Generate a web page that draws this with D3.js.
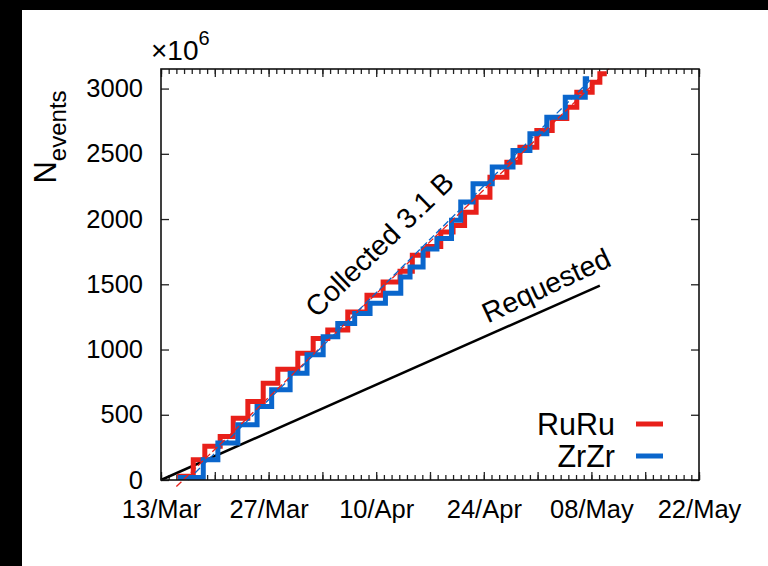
<!DOCTYPE html>
<html>
<head>
<meta charset="utf-8">
<script src="https://cdn.jsdelivr.net/npm/d3@7"></script>
<style>
  html, body { margin: 0; padding: 0; background: #000; }
  svg { display: block; }
  text { font-family: "Liberation Sans", Arial, Helvetica, sans-serif; fill: #000; }
</style>
</head>
<body>
<div id="chart"></div>
<script>
// run start, x tick labels, y ticks
const startDate = "2018-03-13"
const xTickLabels = ["13/Mar", "27/Mar", "10/Apr", "24/Apr", "08/May", "22/May"]
const yTicks = [0, 500, 1000, 1500, 2000, 2500, 3000]

// cumulative events (x10^6), step after each day offset
const ruDays = [2.1, 4.2, 5.7, 7.7, 9.4, 11.3, 13.3, 15.2, 17.8, 19.8, 21.7, 24.3, 26.8, 28.9, 31.1, 32.7, 34.7, 36.4, 38.0, 39.5, 41.0, 42.8, 45.0, 46.7, 48.9, 50.9, 52.8, 54.1, 56.1, 57.1, 58.0]
const ruVals = [28, 155, 258, 334, 474, 602, 742, 849, 972, 1084, 1150, 1288, 1416, 1518, 1600, 1722, 1790, 1900, 1951, 2053, 2168, 2321, 2436, 2551, 2679, 2770, 2857, 2972, 3048, 3113, 3113]
const zrDays = [2.2, 5.5, 7.4, 10.0, 12.5, 14.4, 16.8, 19.0, 21.1, 23.0, 25.2, 27.2, 29.2, 31.2, 32.4, 34.1, 35.9, 37.8, 39.0, 40.6, 43.1, 45.8, 48.0, 50.2, 52.6, 55.2, 55.7]
const zrVals = [20, 155, 283, 423, 564, 691, 819, 959, 1097, 1199, 1276, 1354, 1431, 1556, 1633, 1770, 1850, 1990, 2130, 2270, 2398, 2525, 2653, 2780, 2933, 3076, 3076]

// thin linear trend lines [day, value]
const ruTrend = [[2.0, -50], [58.3, 3150]]
const zrTrend = [[3.5, 0], [56.1, 3080]]
// requested luminosity line
const requested = [[0, 0], [57.1, 1490]]

const W = 768, H = 566
const margin = {left: 161, top: 69, right: 69, bottom: 86}
const colors = {RuRu: "#e8201a", ZrZr: "#0a66cc"}

const day0 = new Date(startDate + "T00:00:00Z")
const toDate = d => new Date(day0.getTime() + d * 864e5)
const parseLabel = d3.utcParse("%d/%b/%Y")

const svg = d3.select("#chart").append("svg")
	.attr("width", W)
	.attr("height", H)

// white page with the black scan edge top and left
svg.append("rect")
	.attr("x", 22).attr("y", 10)
	.attr("width", W - 22).attr("height", H - 10)
	.attr("fill", "#fff")

const x = d3.scaleUtc()
	.domain([day0, parseLabel(xTickLabels[xTickLabels.length - 1] + "/2018")])
	.range([margin.left, W - margin.right])
const y = d3.scaleLinear()
	.domain([0, 3150])
	.range([H - margin.bottom, margin.top])

const allDays = d3.utcDay.range(x.domain()[0], d3.utcDay.offset(x.domain()[1], 1))
const weekDays = allDays.filter((d, i) => i % 7 === 0)
const labelDates = xTickLabels.map(l => parseLabel(l + "/2018"))
const fmt = d3.utcFormat("%d/%b")

const y0 = H - margin.bottom, x1 = W - margin.right

// minor ticks bottom/top
svg.append("g").attr("transform", `translate(0,${y0})`)
	.call(d3.axisBottom(x).tickValues(allDays).tickSize(-5).tickFormat(""))
svg.append("g").attr("transform", `translate(0,${margin.top})`)
	.call(d3.axisTop(x).tickValues(allDays).tickSize(-5).tickFormat(""))
svg.append("g").attr("transform", `translate(0,${margin.top})`)
	.call(d3.axisTop(x).tickValues(weekDays).tickSize(-8).tickFormat(""))

// major bottom ticks with labels on every other week
const xAxis = svg.append("g").attr("transform", `translate(0,${y0})`)
	.call(d3.axisBottom(x).tickValues(weekDays).tickSize(-8).tickPadding(20)
		.tickFormat(d => labelDates.some(l => +l === +d) ? fmt(d) : ""))
xAxis.selectAll("text").style("font-size", "25.5px")

const yAxis = svg.append("g").attr("transform", `translate(${margin.left},0)`)
	.call(d3.axisLeft(y).tickValues(yTicks).tickSize(-8).tickPadding(18).tickFormat(d3.format("d")))
yAxis.selectAll("text").style("font-size", "25.5px")
svg.append("g").attr("transform", `translate(${x1},0)`)
	.call(d3.axisRight(y).tickValues(yTicks).tickSize(-8).tickFormat(""))

svg.selectAll(".domain").remove()
svg.selectAll(".tick line").attr("stroke", "#222").attr("stroke-width", 1.3)

// requested
svg.append("path")
	.datum(requested)
	.attr("fill", "none")
	.attr("stroke", "#000")
	.attr("stroke-width", 2.5)
	.attr("d", d3.line().x(d => x(toDate(d[0]))).y(d => y(d[1])))

// step lines
const step = d3.line()
	.x(d => x(toDate(d[0])))
	.y(d => y(d[1]))
	.curve(d3.curveStepAfter)

const series = [
	{name: "RuRu", days: ruDays, vals: ruVals, trend: ruTrend},
	{name: "ZrZr", days: zrDays, vals: zrVals, trend: zrTrend}
]

series.forEach(function(s) {
	svg.append("path")
		.datum(s.days.map((d, i) => [d, s.vals[i]]))
		.attr("fill", "none")
		.attr("stroke", colors[s.name])
		.attr("stroke-width", 5)
		.attr("stroke-linejoin", "miter")
		.attr("d", step)
})
series.forEach(function(s) {
	svg.append("path")
		.datum(s.trend)
		.attr("fill", "none")
		.attr("stroke", colors[s.name])
		.attr("stroke-width", 1.3)
		.attr("stroke-dasharray", "7,3")
		.attr("d", d3.line().x(d => x(toDate(d[0]))).y(d => y(d[1])))
})

// frame
svg.append("rect")
	.attr("x", margin.left).attr("y", margin.top)
	.attr("width", x1 - margin.left).attr("height", y0 - margin.top)
	.attr("fill", "none")
	.attr("stroke", "#111")
	.attr("stroke-width", 1.6)

// annotations along the lines
function slant(p0, p1) {
	const dx = x(toDate(p1[0])) - x(toDate(p0[0]))
	const dy = y(p1[1]) - y(p0[1])
	return Math.atan2(dy, dx) * 180 / Math.PI
}
svg.append("text")
	.attr("transform", `translate(${x(toDate(28.4))},${y(1806)}) rotate(${slant(ruTrend[0], ruTrend[1])})`)
	.attr("text-anchor", "middle")
	.attr("dy", "0.35em")
	.style("font-size", "28.5px")
	.text("Collected 3.1 B")
svg.append("text")
	.attr("transform", `translate(${x(toDate(50.1))},${y(1492)}) rotate(${slant(requested[0], requested[1]) - 1})`)
	.attr("text-anchor", "middle")
	.attr("dy", "0.35em")
	.style("font-size", "28.5px")
	.text("Requested")

// legend
const legend = svg.append("g")
series.forEach(function(s, i) {
	const ly = 424 + i * 32
	legend.append("text")
		.attr("x", 615).attr("y", ly + 11)
		.attr("text-anchor", "end")
		.style("font-size", "30.5px")
		.text(s.name)
	legend.append("line")
		.attr("x1", 636).attr("x2", 663)
		.attr("y1", ly).attr("y2", ly)
		.attr("stroke", colors[s.name])
		.attr("stroke-width", 5)
})

// axis titles
const yl = svg.append("text")
	.attr("transform", "translate(56,137) rotate(-90)")
	.attr("text-anchor", "middle")
yl.append("tspan").style("font-size", "31px").text("N")
yl.append("tspan").style("font-size", "24px").attr("dy", 10).text("events")

const mult = svg.append("text").attr("x", 151).attr("y", 60)
mult.append("tspan").style("font-size", "28px").text("×10")
mult.append("tspan").style("font-size", "20px").attr("dy", -15).text("6")
</script>
</body>
</html>
